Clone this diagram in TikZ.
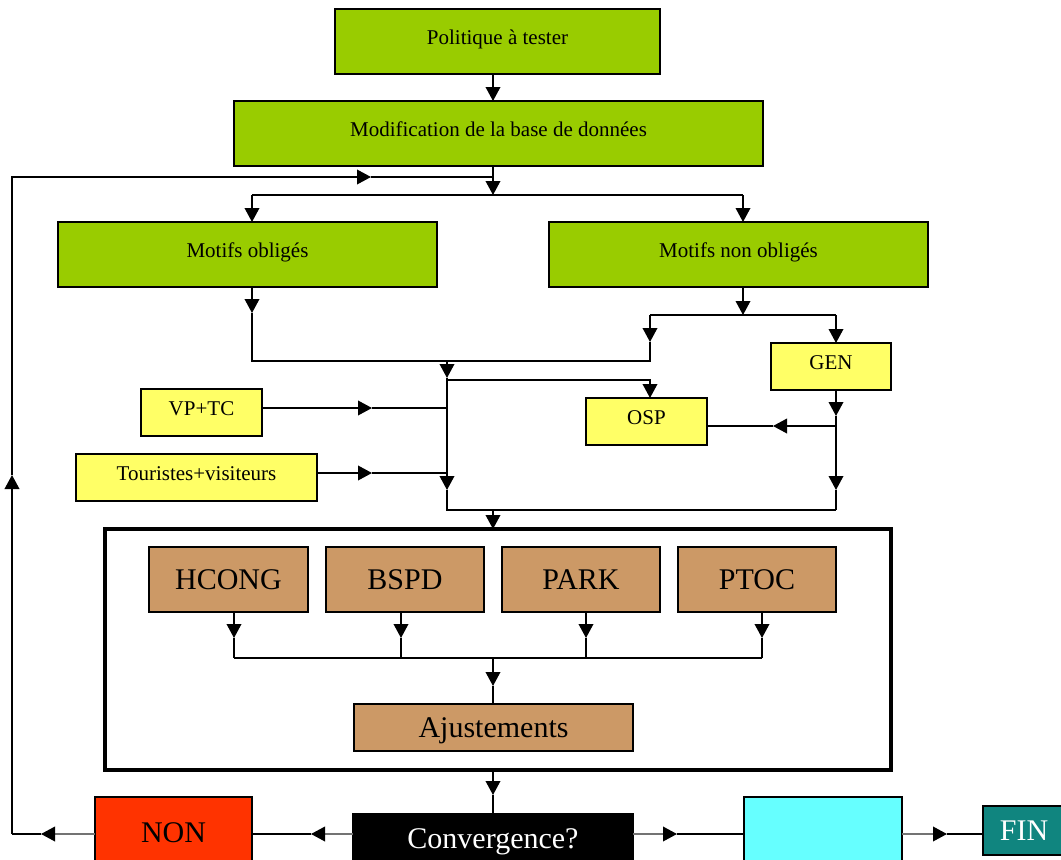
\documentclass[tikz,border=0pt]{standalone}
\usepackage{fontspec}
\setmainfont{Liberation Serif}
\usetikzlibrary{arrows.meta,calc}
\definecolor{vert}{HTML}{99CC00}
\definecolor{jaune}{HTML}{FFFF66}
\definecolor{brun}{HTML}{CC9966}
\definecolor{rouge}{HTML}{FF3300}
\definecolor{cyanclair}{HTML}{66FFFF}
\definecolor{sarcelle}{HTML}{10857F}
\begin{document}
\begin{tikzpicture}[x=0.75pt,y=-0.75pt,line width=1.1pt,
  box/.style={draw=black,line width=1.1pt,inner sep=0pt,outer sep=0pt,
    font=\fontsize{15.75}{18}\selectfont,text height=11pt,text depth=7pt},
  bigfont/.style={font=\fontsize{22.5}{26}\selectfont,text height=15pt,text depth=0pt},
  bx/.style 2 args={minimum width=#1*0.75pt,minimum height=#2*0.75pt},
  tri/.style={-{Triangle[length=10.5pt,width=11pt]}},
  greytri/.style={draw=black!55,-{Triangle[length=10.5pt,width=11pt,color=black]}}]
\useasboundingbox (0,0) rectangle (1061,860);

% nodes
\node[box,fill=vert,bx={325}{65}] (pol) at (497.5,41.5) {Politique à tester};
\node[box,fill=vert,bx={529}{65}] (mod) at (498.5,133.5) {Modification de la base de données};
\node[box,fill=vert,bx={379}{65}] (mo) at (247.5,254.5) {Motifs obligés};
\node[box,fill=vert,bx={379}{65}] (mno) at (738.5,254.5) {Motifs non obligés};
\node[box,fill=jaune,bx={120}{47}] (gen) at (831,366.5) {GEN};
\node[box,fill=jaune,bx={121}{47}] (osp) at (646.5,421.5) {OSP};
\node[box,fill=jaune,bx={121}{47}] (vptc) at (201.5,412.5) {VP+TC};
\node[box,fill=jaune,bx={241}{47}] (tour) at (196.5,477.5) {Touristes+visiteurs};
\node[draw=black,line width=3pt,inner sep=0pt,outer sep=0pt,bx={786}{241}] (big) at (498,649.5) {};
\node[box,fill=brun,bigfont,bx={159}{65}] (hcong) at (228.5,579.5) {HCONG};
\node[box,fill=brun,bigfont,bx={158}{65}] (bspd) at (405,579.5) {BSPD};
\node[box,fill=brun,bigfont,bx={158}{65}] (park) at (581,579.5) {PARK};
\node[box,fill=brun,bigfont,bx={158}{65}] (ptoc) at (757,579.5) {PTOC};
\node[box,fill=brun,bigfont,bx={279}{47}] (aj) at (493.5,727.5) {Ajustements};
\node[box,fill=rouge,bigfont,bx={157}{70}] (non) at (173.5,832) {NON};
\node[box,fill=black,text=white,bigfont,bx={280}{48}] (conv) at (493,838) {Convergence?};
\node[box,fill=cyanclair,bx={158}{70}] (cyanb) at (823,832) {};
\node[box,fill=sarcelle,text=white,bigfont,bx={82}{49}] (fin) at (1024,830.5) {FIN};

% top connectors
\coordinate (cx) at (493,0);
\coordinate (j1) at (493,195);
\draw[tri] (pol.south -| cx) -- (mod.north -| cx);
\draw[tri] (mod.south -| cx) -- (j1);
\coordinate (j1l) at (252,195);
\coordinate (j1r) at (743,195);
\draw (j1l) -- (j1r);
\draw[tri] (j1l) -- (mo.north -| j1l);
\draw[tri] (j1r) -- (mno.north -| j1r);

% feedback loop
\coordinate (fbB) at (12,834);
\coordinate (fbA) at (12,475);
\coordinate (fbT) at (12,177);
\coordinate (fbM) at (371,177);
\coordinate (fbE) at (493,177);
\draw[tri] (fbB) -- (fbA);
\draw[tri] (fbA) -- (fbT) -- (fbM);
\draw (fbM) -- (fbE);

% motifs
\coordinate (a1) at (252,313);
\coordinate (a2) at (252,361);
\coordinate (a3) at (650,361);
\coordinate (a4) at (650,342);
\coordinate (b0) at (743,315);
\coordinate (bl) at (650,315);
\coordinate (br) at (836,315);
\draw[tri] (mo.south -| a1) -- (a1);
\draw (a1) -- (a2) -- (a3) -- (a4);
\draw[tri] (mno.south -| b0) -- (b0);
\draw (bl) -- (br);
\draw[tri] (bl) -- (a4);
\draw[tri] (br) -- (gen.north -| br);

% central collector
\coordinate (c0) at (447,361);
\coordinate (c1) at (447,378);
\coordinate (c2) at (447,380);
\coordinate (c3) at (650,380);
\coordinate (c4) at (447,490);
\coordinate (c5) at (447,510);
\coordinate (c6) at (836,510);
\coordinate (c7) at (493,510);
\draw[tri] (c0) -- (c1);
\draw[tri] (c1) -- (c4);
\draw (c4) -- (c5) -- (c6);
\draw[tri] (c2) -- (c3) -- (osp.north -| c3);

% GEN chain
\coordinate (d1) at (836,416);
\coordinate (d2) at (836,426);
\coordinate (d3) at (836,490);
\coordinate (e1) at (773,426);
\draw[tri] (gen.south -| d1) -- (d1);
\draw[tri] (d1) -- (d3);
\draw (d3) -- (c6);
\draw[tri] (d2) -- (e1);
\draw (e1) -- (osp.east |- e1);

% VP+TC and tourists
\coordinate (v1) at (372,408);
\coordinate (v2) at (447,408);
\coordinate (t1) at (372,473);
\coordinate (t2) at (447,473);
\draw[tri] (vptc.east |- v1) -- (v1);
\draw (v1) -- (v2);
\draw[tri] (tour.east |- t1) -- (t1);
\draw (t1) -- (t2);

\draw[tri] (c7) -- (big.north -| c7);

% inside big box
\coordinate (h1) at (234,638); \coordinate (h2) at (234,658);
\coordinate (s1) at (401,638); \coordinate (s2) at (401,658);
\coordinate (p1) at (586,638); \coordinate (p2) at (586,658);
\coordinate (q1) at (762,638); \coordinate (q2) at (762,658);
\draw[tri] (hcong.south -| h1) -- (h1);
\draw[tri] (bspd.south -| s1) -- (s1);
\draw[tri] (park.south -| p1) -- (p1);
\draw[tri] (ptoc.south -| q1) -- (q1);
\draw (h1) -- (h2); \draw (s1) -- (s2); \draw (p1) -- (p2); \draw (q1) -- (q2);
\draw (h2) -- (q2);
\coordinate (g1) at (493,658);
\coordinate (g2) at (493,686);
\draw[tri] (g1) -- (g2);
\draw (g2) -- (aj.north -| g2);

% to convergence
\coordinate (k1) at (493,795);
\draw[tri] (big.south -| k1) -- (k1);
\draw (k1) -- (conv.north -| k1);

% bottom row
\coordinate (m1) at (311,834);
\coordinate (m2) at (41,834);
\coordinate (m3) at (677,834);
\coordinate (m4) at (947,834);
\draw[greytri] (conv.west |- m1) -- (m1);
\draw (m1) -- (non.east |- m1);
\draw[greytri] (non.west |- m2) -- (m2);
\draw (m2) -- (fbB);
\draw[greytri] (conv.east |- m3) -- (m3);
\draw (m3) -- (cyanb.west |- m3);
\draw[greytri] (cyanb.east |- m4) -- (m4);
\draw (m4) -- (fin.west |- m4);
\end{tikzpicture}
\end{document}
